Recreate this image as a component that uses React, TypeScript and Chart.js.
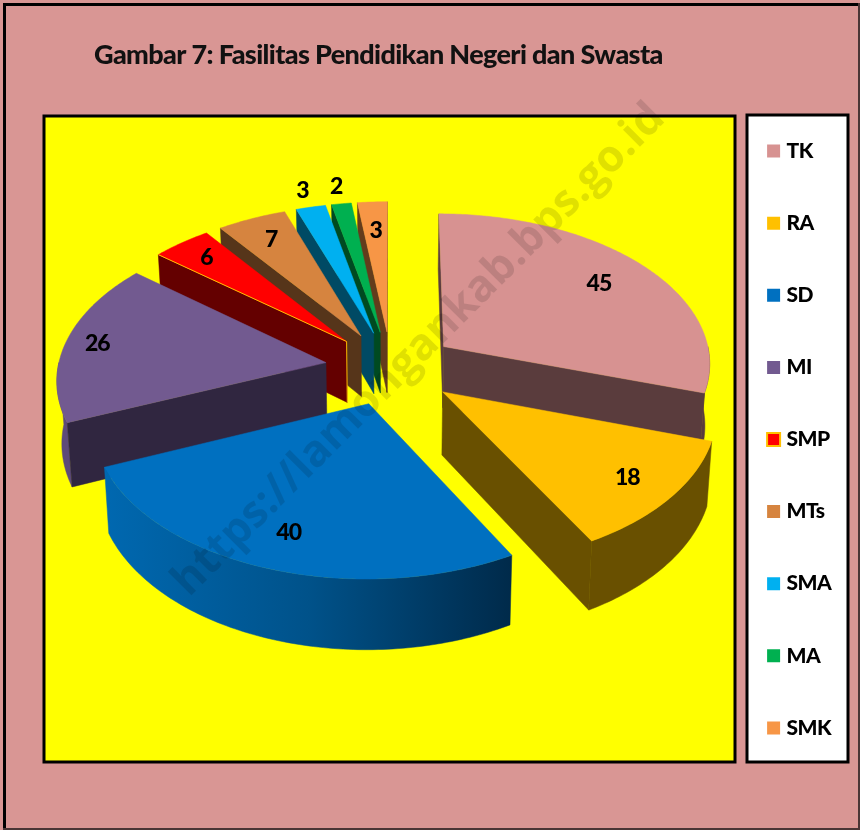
import React, { useEffect, useRef } from "react";
import { Chart, registerables } from "chart.js";

Chart.register(...registerables);

const categories = ["TK", "RA", "SD", "MI", "SMP", "MTs", "SMA", "MA", "SMK"];
const values = [45, 18, 40, 26, 6, 7, 3, 2, 3];
const titleText = "Gambar 7: Fasilitas Pendidikan Negeri dan Swasta";
const watermarkText = "https://lamongankab.bps.go.id";

const topColors = ["#D79291", "#FFC000", "#0070C0", "#725A90", "#FF0000", "#D6843F", "#00B0F0", "#00B050", "#F79646"];
const cutColors = ["#5A3C3D", "#695000", "#0058A0", "#302640", "#640000", "#56351A", "#004A64", "#004A21", "#633C1C"];
const rimColors = ["#5A3C3D", "#695000", "#0066AD", "#5E4B79", "#640000", "#56351A", "#004A64", "#004A21", "#633C1C"];
const edgeColors = ["#D79291", "#FFC000", "#0070C0", "#725A90", "#FFC000", "#D6843F", "#00B0F0", "#00B050", "#F79646"];
const edgeWidths = [0, 0, 0, 0, 2, 0, 0, 0, 0];
const labelReach = [0.77, 0.82, 0.8, 0.88, 0.84, 0.81, 1.15, 1.15, 0.76];
const paintOrder = [8, 7, 6, 5, 4, 3, 0, 1, 2];

const PINK = "#D99694";
const PERSPECTIVE = 0.1;
const SQUASH = 0.56;
const DEPTH = 62;
const PINCH = 0.985;
const EXPLODE = 66;
const RADIUS = 268;

const pie3d = {
  id: "pie3d",
  beforeLayout(chart: any) {
    const l = chart.legend;
    if (l && !l.__tall) {
      const u = l.update.bind(l);
      l.update = (w: number, _h: number, m: any) => u(w, 800, m);
      l.__tall = true;
    }
  },
  afterLayout(chart: any) {
    const l = chart.legend;
    l.left = 720;
    l.top = 89.5;
    l.bottom = 830;
    l.right = 860;
    const t = chart.titleBlock;
    t.left = 94;
    t.right = 800;
  },
  beforeDraw(chart: any) {
    const { ctx, chartArea: a, width, height } = chart;
    ctx.letterSpacing = "-0.63px";
    ctx.save();
    ctx.fillStyle = PINK;
    ctx.fillRect(0, 0, width, height);
    ctx.fillStyle = "#000";
    ctx.fillRect(3, 3, 857, 3);
    ctx.fillRect(3, 3, 3, 827);
    ctx.fillStyle = "#4A3535";
    ctx.fillRect(858, 3, 2, 827);
    ctx.fillRect(3, 828, 857, 2);
    ctx.strokeStyle = "#000";
    ctx.fillStyle = "#FFFF00";
    ctx.fillRect(a.left, a.top, a.right - a.left, a.bottom - a.top);
    ctx.lineWidth = 3;
    ctx.strokeRect(a.left, a.top, a.right - a.left, a.bottom - a.top);
    ctx.fillStyle = "#FFFFFF";
    ctx.fillRect(747, 115, 101, 647);
    ctx.strokeRect(747, 115, 101, 647);
    ctx.restore();
  },
  beforeDatasetsDraw(chart: any) {
    const { ctx } = chart;
    const arcs = chart.getDatasetMeta(0).data;
    const first = arcs[0];
    const cx = first.x + 1.5;
    const cy = first.y - 71;
    const R = first.outerRadius;
    const e = first.options.offset / R;
    const proj = (u: number, v: number, z = 0) => {
      const w = 1 / (1 - PERSPECTIVE * v);
      return {
        x: cx + R * u * w * (z ? PINCH : 1),
        y: cy + R * SQUASH * v * w + z * w,
      };
    };
    const fillPoly = (pts: any[], fill: any) => {
      ctx.beginPath();
      pts.forEach((p, i) => (i ? ctx.lineTo(p.x, p.y) : ctx.moveTo(p.x, p.y)));
      ctx.closePath();
      ctx.fillStyle = fill;
      ctx.strokeStyle = fill;
      ctx.lineWidth = 0.5;
      ctx.fill();
      ctx.stroke();
    };
    ctx.save();
    paintOrder.forEach((i) => {
      const arc = arcs[i];
      const a0 = arc.startAngle;
      const a1 = arc.endAngle;
      const mid = (a0 + a1) / 2;
      const du = e * Math.cos(mid);
      const dv = e * Math.sin(mid);
      const at = (t: number, z = 0) => proj(du + Math.cos(t), dv + Math.sin(t), z);
      const A = proj(du, dv);
      const Az = proj(du, dv, DEPTH);
      const P = at(a0), Pz = at(a0, DEPTH), Q = at(a1), Qz = at(a1, DEPTH);
      const cross = (p: any, q: any, r: any) => (q.x - p.x) * (r.y - q.y) - (q.y - p.y) * (r.x - q.x);
      const ranges = [[0, Math.PI], [2 * Math.PI, 3 * Math.PI], [-2 * Math.PI, -Math.PI]];
      ranges.forEach(([lo, hi]) => {
        const s = Math.max(a0, lo);
        const f = Math.min(a1, hi);
        if (f <= s) return;
        const n = Math.max(2, Math.ceil((f - s) * 60));
        const up: any[] = [];
        const down: any[] = [];
        for (let k = 0; k <= n; k++) {
          const t = s + ((f - s) * k) / n;
          up.push(at(t));
          down.push(at(t, DEPTH));
        }
        let fill: any = rimColors[i];
        if (i === 2) {
          const xs = up.map((p) => p.x);
          const g = ctx.createLinearGradient(Math.min(...xs), 0, Math.max(...xs), 0);
          g.addColorStop(0, "#0068B0");
          g.addColorStop(0.5, "#00528A");
          g.addColorStop(1, "#002A4A");
          fill = g;
        }
        fillPoly([...up, ...down.reverse()], fill);
      });
      if (cross(A, P, Pz) < 0) fillPoly([A, P, Pz, Az], cutColors[i]);
      if (cross(A, Q, Qz) > 0) fillPoly([A, Q, Qz, Az], cutColors[i]);
      const n = Math.max(4, Math.ceil((a1 - a0) * 80));
      const pts = [A];
      for (let k = 0; k <= n; k++) pts.push(at(a0 + ((a1 - a0) * k) / n));
      fillPoly(pts, arc.options.backgroundColor);
      if (arc.options.borderWidth > 0) {
        ctx.beginPath();
        ctx.moveTo(P.x, P.y);
        ctx.lineTo(A.x, A.y);
        ctx.lineTo(Az.x, Az.y);
        ctx.strokeStyle = arc.options.borderColor;
        ctx.lineWidth = 1;
        ctx.stroke();
      }
    });
    ctx.fillStyle = "#000";
    ctx.font = "900 23px Lato";
    ctx.letterSpacing = "-1px";
    ctx.textAlign = "center";
    ctx.textBaseline = "middle";
    arcs.forEach((arc: any, i: number) => {
      const mid = (arc.startAngle + arc.endAngle) / 2;
      const f = labelReach[i];
      const p = proj((e + f) * Math.cos(mid), (e + f) * Math.sin(mid));
      ctx.fillText(String(values[i]), p.x, p.y);
    });
    ctx.save();
    ctx.translate(419, 350);
    ctx.rotate(-Math.PI / 4);
    ctx.letterSpacing = "0px";
    ctx.font = "bold 44px 'Open Sans'";
    ctx.fillStyle = "rgba(0,0,0,0.12)";
    ctx.fillText(watermarkText, 0, 0);
    ctx.restore();
    ctx.restore();
    return false;
  },
};

export default function App() {
  const ref = useRef<HTMLCanvasElement>(null);
  useEffect(() => {
    document.body.style.margin = "0";
    const chart = new Chart(ref.current as HTMLCanvasElement, {
      type: "pie",
      data: {
        labels: categories,
        datasets: [
          {
            data: values,
            backgroundColor: topColors,
            borderColor: edgeColors,
            borderWidth: edgeWidths,
            offset: EXPLODE,
          },
        ],
      },
      options: {
        responsive: false,
        animation: false,
        radius: RADIUS,
        layout: { padding: { left: 44, right: 12, top: 30, bottom: 68 } },
        plugins: {
          tooltip: { enabled: false },
          title: {
            display: true,
            text: titleText,
            align: "start",
            color: "#111",
            font: { family: "Lato", size: 27, weight: "900", lineHeight: 1.2 },
            padding: { top: 9, bottom: 44.6 },
          },
          legend: {
            position: "right",
            align: "start",
            maxWidth: 113,
            labels: {
              color: "#000",
              font: { family: "Lato", size: 21, weight: "900" },
              boxWidth: 5,
              boxHeight: 13,
              padding: 51.1,
              usePointStyle: true,
              pointStyle: "rect",
            },
          },
        },
      } as any,
      plugins: [pie3d as any],
    });
    return () => chart.destroy();
  }, []);
  return <canvas ref={ref} width={860} height={830} style={{ display: "block" }} />;
}
